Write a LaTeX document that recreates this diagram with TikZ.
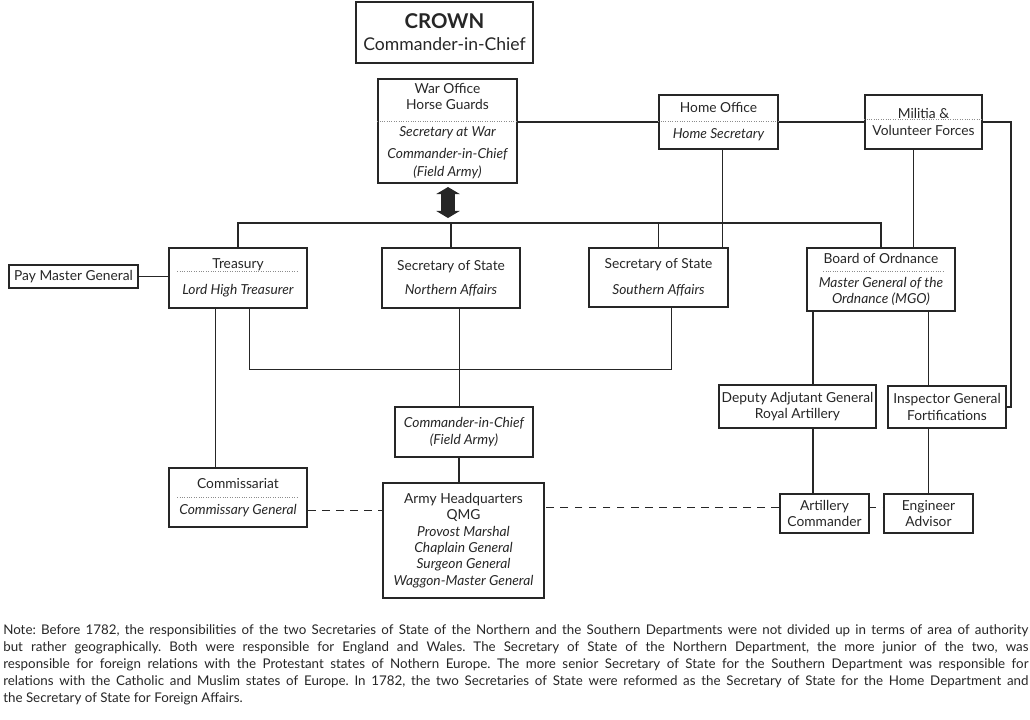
\documentclass[tikz,border=0pt]{standalone}
\usepackage{fontspec}
\setmainfont{Lato}
\frenchspacing
\usetikzlibrary{calc,arrows.meta}

\tikzset{
    box/.style={draw=black!85, line width=1.2pt, align=center, inner sep=1pt, font=\fontsize{9.8}{11.6}\selectfont},
    link/.style={draw=black!85, line width=0.9pt},
    dashlink/.style={link, dash pattern=on 5.5pt off 4.5pt},
    sepline/.style={draw=black!45, line width=0.5pt, dash pattern=on 0.6pt off 1.1pt}
}

\begin{document}
\begin{tikzpicture}[x=0.025cm, y=-0.025cm, text=black!85]
    \useasboundingbox (0,0) rectangle (1030,719);

    % top row
    \node[box, minimum width=4.425cm, minimum height=1.525cm, font=\fontsize{12.5}{15.6}\selectfont] (crown) at (444.5,32.5) {{\fontsize{14.5}{15.6}\selectfont\bfseries CROWN}\\Commander-in-Chief};
    \node[box, minimum width=3.475cm, minimum height=2.6cm] (war) at (447.5,131) {War Office\\Horse Guards\\[7.5pt]\itshape Secretary at War\\[4pt]\itshape Commander-in-Chief\\[1pt]\itshape (Field Army)};
    \node[box, minimum width=2.975cm, minimum height=1.35cm] (home) at (718.5,122) {Home Office\\[7pt]\itshape Home Secretary};
    \node[box, minimum width=2.925cm, minimum height=1.35cm] (militia) at (923.5,122) {Militia \&\\Volunteer Forces};

    % departments
    \node[box, minimum width=3.45cm, minimum height=1.5cm] (treas) at (238,278) {Treasury\\[7pt]\itshape Lord High Treasurer};
    \node[box, minimum width=3.225cm, minimum height=0.575cm] (paym) at (73.5,276.5) {Pay Master General};
    \node[box, minimum width=3.45cm, minimum height=1.5cm] (north) at (451,278) {Secretary of State\\[5.5pt]\itshape Northern Affairs};
    \node[box, minimum width=3.475cm, minimum height=1.475cm] (south) at (658.5,277.5) {Secretary of State\\[7pt]\itshape Southern Affairs};
    \node[box, minimum width=3.7cm, minimum height=1.575cm] (ordn) at (881,279.5) {Board of Ordnance\\[5pt]\itshape Master General of the\\\itshape Ordnance (MGO)};

    % field army
    \node[box, minimum width=3.45cm, minimum height=1.25cm] (cinc) at (464,432) {\itshape Commander-in-Chief\\\itshape (Field Army)};
    \node[box, minimum width=4.025cm, minimum height=2.875cm] (hq) at (463.5,540.5) {Army Headquarters\\QMG\\\itshape Provost Marshal\\\itshape Chaplain General\\\itshape Surgeon General\\\itshape Waggon-Master General};
    \node[box, minimum width=3.45cm, minimum height=1.475cm] (commis) at (238,497.5) {Commissariat\\[6.5pt]\itshape Commissary General};
    \node[box, minimum width=3.925cm, minimum height=1.075cm] (dag) at (797.5,406.5) {Deputy Adjutant General\\Royal Artillery};
    \node[box, minimum width=2.95cm, minimum height=1.05cm] (insp) at (947,407) {Inspector General\\Fortifications};
    \node[box, minimum width=2.225cm, minimum height=0.975cm] (artcmd) at (824.5,513.5) {Artillery\\Commander};
    \node[box, minimum width=2.225cm, minimum height=0.975cm] (engadv) at (928.5,513.5) {Engineer\\Advisor};

    % dotted separators
    \draw[sepline] ($(war.north west)+(0,43)$) -- ($(war.north east)+(0,43)$);
    \draw[sepline] ($(home.north west)+(0,27)$) -- ($(home.north east)+(0,27)$);
    \draw[sepline] ($(militia.north west)+(0,25)$) -- ($(militia.north east)+(0,25)$);
    \draw[sepline] ($(treas.north west)+(9,24)$) -- ($(treas.north east)+(-9,24)$);
    \draw[sepline] ($(ordn.north west)+(17,24)$) -- ($(ordn.north east)+(-13,24)$);
    \draw[sepline] ($(commis.north west)+(9,30)$) -- ($(commis.north east)+(-9,30)$);

    % top links
    \draw[link] (home.west) -- (home.west -| war.east);
    \draw[link] (home.east) -- (militia.west);
    \draw[link] (militia.east) -- ++(28,0) |- (insp.east);

    \coordinate (dbltop) at (448,187);
    \coordinate (dblbot) at (448,218);
    \draw[link, line width=10pt, {Triangle[width=16.5pt,length=5pt]}-{Triangle[width=16.5pt,length=5pt]}] (dbltop) -- (dblbot);

    \coordinate (bus) at (0,223);
    \draw[link] (treas.north) |- (bus -| ordn.north) -- (ordn.north);
    \draw[link] (north.north) -- (north.north |- bus);
    \draw[link] (south.north) -- (south.north |- bus);

    \coordinate (homeS) at ([xshift=3pt]home.south);
    \draw[link] (homeS) -- (homeS |- south.north);
    \coordinate (milS) at ([xshift=-7pt]militia.south);
    \draw[link] (milS) -- (milS |- ordn.north);

    % lower links
    \draw[link] (paym.east) -- (paym.east -| treas.west);
    \coordinate (treasA) at ([xshift=-16pt]treas.south);
    \draw[link] (treasA) -- (treasA |- commis.north);
    \coordinate (treasB) at ([xshift=8pt]treas.south);
    \coordinate (southB) at ([xshift=9pt]south.south);
    \coordinate (loopR) at ($(southB)+(0,62)$);
    \draw[link] (treasB) |- (loopR) -- (southB);

    \coordinate (northS) at ([xshift=6pt]north.south);
    \draw[link] (northS) -- (northS |- cinc.north);
    \coordinate (cincS) at ([xshift=-3.5pt]cinc.south);
    \draw[link] (cincS) -- (cincS |- hq.north);

    \coordinate (dagN) at ([xshift=11pt]dag.north);
    \draw[link] (dagN |- ordn.south) -- (dagN);
    \coordinate (dagS) at ([xshift=11pt]dag.south);
    \draw[link] (dagS) -- (dagS |- artcmd.north);
    \draw[link] (engadv.north |- ordn.south) -- (engadv.north |- insp.north);
    \draw[link] (engadv.north |- insp.south) -- (engadv.north);

    \coordinate (comE) at ([yshift=-9pt]commis.east);
    \draw[dashlink] (comE) -- (comE -| hq.west);
    \coordinate (artW) at ([yshift=4.5pt]artcmd.west);
    \draw[dashlink] (artW) -- (artW -| hq.east);
    \draw[dashlink, dash phase=1pt] (artcmd.east |- artW) -- (engadv.west |- artW);

    % note
    \node[anchor=north west, text width=25.62cm, align=justify, inner sep=0pt, font=\fontsize{9.5}{12.1}\selectfont] (note) at (3,624) {Note: Before 1782, the responsibilities of the two Secretaries of State of the Northern and the Southern Departments were not divided up in terms of area of authority\linebreak
    but rather geographically. Both were responsible for England and Wales. The Secretary of State of the Northern Department, the more junior of the two, was\linebreak
    responsible for foreign relations with the Protestant states of Nothern Europe. The more senior Secretary of State for the Southern Department was responsible for\linebreak
    relations with the Catholic and Muslim states of Europe. In 1782, the two Secretaries of State were reformed as the Secretary of State for the Home Department and\linebreak
    the Secretary of State for Foreign Affairs.};
\end{tikzpicture}
\end{document}
